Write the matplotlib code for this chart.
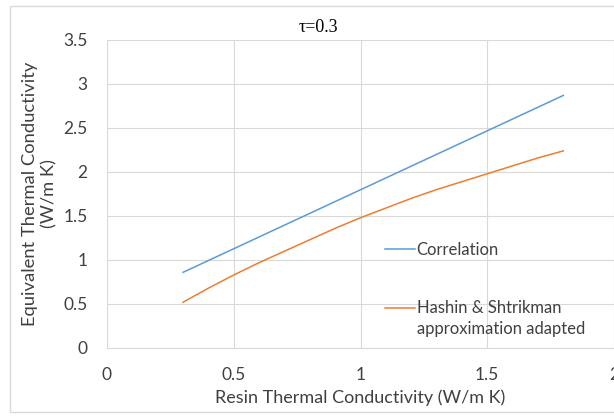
import matplotlib
matplotlib.use("Agg")
import matplotlib.pyplot as plt
from matplotlib.patches import Rectangle
from matplotlib.legend_handler import HandlerLine2D

k_resin = [0.3, 0.4, 0.5, 0.6, 0.7, 0.8, 0.9, 1.0, 1.1, 1.2, 1.3, 1.4, 1.5, 1.6, 1.7, 1.8]
correlation = [0.86, 0.994, 1.128, 1.262, 1.396, 1.53, 1.664, 1.798, 1.932, 2.066, 2.2, 2.334, 2.468, 2.602, 2.736, 2.87]
hashin = [0.52, 0.68, 0.83, 0.97, 1.10, 1.23, 1.36, 1.48, 1.59, 1.70, 1.80, 1.89, 1.98, 2.07, 2.16, 2.24]
x_ticks = [0, 0.5, 1, 1.5, 2]
x_labels = ["0", "0.5", "1", "1.5", "2"]
y_ticks = [0, 0.5, 1, 1.5, 2, 2.5, 3, 3.5]
y_labels = ["0", "0.5", "1", "1.5", "2", "2.5", "3", "3.5"]

plt.rcParams['font.family'] = ['Lato', 'DejaVu Sans']

LEG_FS = 12
LINESP = 1.35


class TopLineHandler(HandlerLine2D):
    """Aligns the legend line with the first line of a two-line label."""
    def create_artists(self, legend, orig_handle, xdescent, ydescent, width, height, fontsize, trans):
        artists = super().create_artists(legend, orig_handle, xdescent, ydescent, width, height, fontsize, trans)
        shift = fontsize * LINESP * 0.5
        for a in artists:
            yd = a.get_ydata()
            a.set_ydata([v + shift for v in yd])
        return artists


fig = plt.figure(figsize=(6.14, 4.16), dpi=100)
fig.patches.append(Rectangle((10/614, 4/416), 1.0, 406/416, transform=fig.transFigure,
                             fill=False, edgecolor='#D9D9D9', linewidth=1.0))
ax = fig.add_axes([107/614, 1-348/416, 507/614, 308/416])

l1, = ax.plot(k_resin, correlation, color='#5B9BD5', linewidth=1.1, label='Correlation')
l2, = ax.plot(k_resin, hashin, color='#ED7D31', linewidth=1.1, label='Hashin & Shtrikman\napproximation adapted')

ax.set_xlim(0, 2)
ax.set_ylim(0, 3.5)
ax.set_xticks(x_ticks)
ax.set_xticklabels(x_labels)
ax.set_yticks(y_ticks)
ax.set_yticklabels(y_labels)
ax.grid(True, color='#D9D9D9', linewidth=0.8)
ax.set_axisbelow(True)
for s in ['top', 'right', 'left']:
    ax.spines[s].set_visible(False)
ax.spines['bottom'].set_color('#D9D9D9')
ax.tick_params(length=0, labelsize=12.5, colors='#404040')
ax.tick_params(axis='y', pad=14)
ax.tick_params(axis='x', pad=14)

ax.set_xlabel('Resin Thermal Conductivity (W/m K)', fontsize=13, color='#404040', labelpad=4)
ax.set_ylabel('Equivalent Thermal Conductivity\n(W/m K)', fontsize=13.2, color='#404040',
              labelpad=4, linespacing=1.3, multialignment='center')
fig.text(318/614, 1-28/416, 'τ=0.3', family=['Liberation Serif', 'DejaVu Serif'], fontsize=13,
         color='#000000', ha='center', va='center')

leg = ax.legend(loc='upper left', bbox_to_anchor=(0.548, 0.345), frameon=False,
                fontsize=LEG_FS, handlelength=1.8, handletextpad=0.1, borderpad=0,
                borderaxespad=0, labelspacing=2.55,
                handler_map={l2: TopLineHandler()})
for t in leg.get_texts():
    t.set_color('#404040')
    t.set_linespacing(LINESP)

fig.savefig('out.png', dpi=100)
